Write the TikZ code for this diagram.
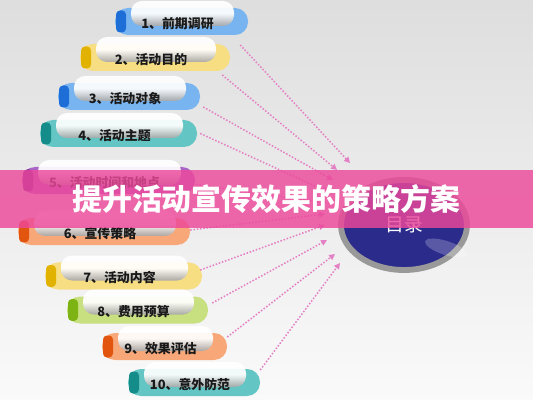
\documentclass[tikz,border=0pt]{standalone}
\usepackage{fontspec}
\setmainfont{Noto Sans CJK SC}
\usetikzlibrary{arrows.meta,shapes.geometric}

\definecolor{pillblue}{RGB}{120,180,240}
\definecolor{capblue}{RGB}{30,110,215}
\definecolor{pillyellow}{RGB}{247,222,130}
\definecolor{capyellow}{RGB}{225,178,0}
\definecolor{pillteal}{RGB}{100,198,196}
\definecolor{capteal}{RGB}{20,140,138}
\definecolor{pillpurple}{RGB}{170,100,200}
\definecolor{cappurple}{RGB}{110,30,140}
\definecolor{pillorange}{RGB}{248,168,120}
\definecolor{caporange}{RGB}{225,85,15}
\definecolor{pillgreen}{RGB}{200,224,128}
\definecolor{capgreen}{RGB}{125,180,20}
\definecolor{bannerpink}{RGB}{236,72,155}
\definecolor{dotpink}{RGB}{228,128,196}
\definecolor{menublue}{RGB}{43,43,140}

\tikzset{
  pill/.style={rounded corners=0.39cm, inner sep=0pt, minimum height=0.81cm},
  gloss/.style={rounded corners=0.33cm, top color=white, bottom color=black!35, middle color=white, opacity=0.92},
  itemtext/.style={font=\fontsize{11}{13}\selectfont\bfseries, text=black!90, inner sep=0pt},
  dotarrow/.style={dotpink, line width=1.3pt, dash pattern=on 1.3pt off 1.5pt, -{Triangle[length=5pt,width=5pt]}},
}

\begin{document}
\begin{tikzpicture}[x=0.03cm, y=-0.03cm]
        \shade[top color=black!13, bottom color=black!2] (0,0) rectangle (533,400);
        \useasboundingbox (0,0) rectangle (533,400);

        % the ten items
        \foreach \i/\xl/\xr/\yc/\col/\lab in {
            1/115/248/21.5/blue/{1、前期调研},
            2/80/230/57.5/yellow/{2、活动目的},
            3/58/200/96.5/blue/{3、活动对象},
            4/40/197/133.5/teal/{4、活动主题},
            5/22/195/180.5/purple/{5、活动时间和地点},
            6/18/190/231.5/orange/{6、宣传策略},
            7/45/202/276/yellow/{7、活动内容},
            8/67/208/310/green/{8、费用预算},
            9/102/227/346.5/orange/{9、效果评估},
            10/128/260/382.5/teal/{10、意外防范}}
        {
            \node[pill, fill=pill\col, minimum width={(\xr-\xl)*0.03cm}] (p\i) at ({(\xl+\xr)/2},\yc) {};
            \fill[cap\col, rounded corners=0.12cm] (\xl+1,\yc-11) rectangle (\xl+11,\yc+11);
            \shade[gloss] (\xl+16,\yc-20.5) rectangle (\xr-14,\yc+4.5);
            \node[itemtext] (t\i) at ({(\xl+\xr)/2-4},\yc+2) {\lab};
        }

        % button
        \node[ellipse, draw=black!40, line width=5pt, fill=menublue, text=white,
              font=\fontsize{16}{18}\selectfont, minimum width=3.78cm, minimum height=2.7cm] (menu) at (404,225) {目录};
        \fill[white, opacity=0.22, rotate around={-18:(446,248)}] (446,248) ellipse (22 and 7);

        % dotted arrows
        \foreach \i/\dx/\dy/\ex/\ey in {
            1/-8/23.5/350/163, 2/-8/17.5/337/170, 3/3/10.5/333/180, 4/3/0/328/192,
            5/1/4/326/203, 6/0/-1.5/325/214, 7/-2/-6/325/225, 8/4/-7/327/240,
            9/0/-9.5/335/254, 10/0/-12.5/340/263}
        {
            \coordinate (e\i) at (\ex,\ey);
            \draw[dotarrow] ([shift={(\dx,\dy)}]p\i.east) -- (e\i);
        }

        % title band
        \node[fill=bannerpink, fill opacity=0.82, text opacity=1, text=white, inner sep=0pt,
              minimum width=16cm, minimum height=1.74cm, font=\fontsize{25.5}{28}\bfseries] (title) at (266.5,199) {提升活动宣传效果的策略方案};
\end{tikzpicture}
\end{document}
